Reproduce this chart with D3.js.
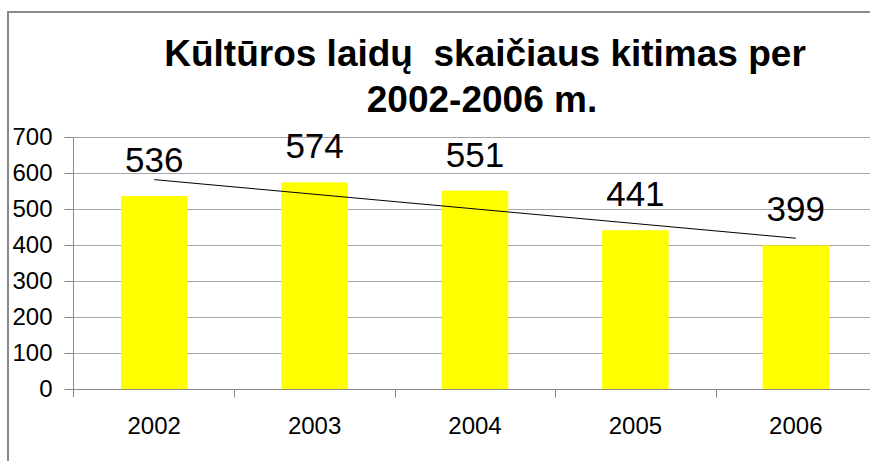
<!DOCTYPE html>
<html>
<head>
<meta charset="utf-8">
<script src="https://cdn.jsdelivr.net/npm/d3@7"></script>
<style>
  html, body { margin: 0; padding: 0; background: #fff; }
  svg { display: block; font-family: "Liberation Sans", Arial, sans-serif; }
  text { white-space: pre; }
</style>
</head>
<body>
<svg id="chart" width="870" height="461"></svg>
<script>
const categories = ["2002", "2003", "2004", "2005", "2006"];
const values = [536, 574, 551, 441, 399];
const yTicks = [0, 100, 200, 300, 400, 500, 600, 700];
const titleLines = ["Kūltūros laidų  skaičiaus kitimas per", "2002-2006 m."];

(function () {
const svg = d3.select("#chart");
const W = 870, H = 461;
const pL = 74, pR = 876, pT = 137, pB = 389;

svg.append("rect").attr("width", W).attr("height", H).attr("fill", "#fff");

// outer frame
svg.append("path")
  .attr("d", `M8,${H + 5} L8,12 L${W + 5},12`)
  .attr("fill", "none").attr("stroke", "#8a8a8a").attr("stroke-width", 2);

const x = d3.scaleBand().domain(categories).range([pL, pR])
  .paddingInner(0.585).paddingOuter(0.2925);
const xb = d3.scaleBand().domain(categories).range([pL, pR]).padding(0);
const y = d3.scaleLinear().domain([0, 700]).range([pB, pT]);

// gridlines
svg.append("g").selectAll("line").data(yTicks.filter(t => t > 0)).join("line")
  .attr("x1", pL).attr("x2", pR)
  .attr("y1", d => y(d) + 0.5).attr("y2", d => y(d) + 0.5)
  .attr("stroke", "#a6a6a6").attr("stroke-width", 1);

// bars
svg.append("g").selectAll("rect").data(values).join("rect")
  .attr("x", (d, i) => x(categories[i]))
  .attr("width", x.bandwidth())
  .attr("y", d => y(d))
  .attr("height", d => y(0) - y(d))
  .attr("fill", "#ffff00");

// y axis
const yAxis = d3.axisLeft(y).tickValues(yTicks).tickSize(9).tickPadding(12).tickFormat(d3.format("d"));
const gy = svg.append("g").attr("transform", `translate(${pL - 0.5},0)`).call(yAxis);
gy.select(".domain").attr("stroke", "#8a8a8a").attr("d", `M0,${pT} V${pB + 8}`);
gy.selectAll(".tick line").attr("stroke", "#8a8a8a");
gy.selectAll(".tick text").attr("font-size", 24).attr("fill", "#000")
  .attr("font-family", "Liberation Sans, Arial, sans-serif");

// x axis
const gx = svg.append("g").attr("transform", `translate(0,${pB + 0.5})`);
gx.append("line").attr("x1", pL).attr("x2", pR).attr("y1", 0).attr("y2", 0)
  .attr("stroke", "#8a8a8a").attr("stroke-width", 1);
gx.selectAll("line.tk").data(categories.slice(1)).join("line").attr("class", "tk")
  .attr("x1", d => Math.round(xb(d)) + 0.5).attr("x2", d => Math.round(xb(d)) + 0.5)
  .attr("y1", 0).attr("y2", 8).attr("stroke", "#8a8a8a");
gx.selectAll("text").data(categories).join("text")
  .attr("x", d => xb(d) + xb.bandwidth() / 2)
  .attr("y", 44)
  .attr("text-anchor", "middle").attr("font-size", 24).attr("fill", "#000")
  .text(d => d);

// linear trendline (least squares fit of the values)
const n = values.length;
const xs = d3.range(1, n + 1);
const mx = d3.mean(xs), my = d3.mean(values);
const slope = d3.sum(xs, (xi, i) => (xi - mx) * (values[i] - my)) / d3.sum(xs, xi => (xi - mx) ** 2);
const intercept = my - slope * mx;
const trend = [1, n].map(xi => ({ c: categories[xi - 1], v: intercept + slope * xi }));
svg.append("path")
  .attr("d", d3.line().x(d => xb(d.c) + xb.bandwidth() / 2).y(d => y(d.v))(trend))
  .attr("stroke", "#000").attr("stroke-width", 1).attr("fill", "none");

// data labels
svg.append("g").selectAll("text").data(values).join("text")
  .attr("x", (d, i) => x(categories[i]) + x.bandwidth() / 2)
  .attr("y", d => y(d) - 24)
  .attr("text-anchor", "middle").attr("font-size", 35).attr("fill", "#000")
  .text(d => d);

// title
svg.append("g").selectAll("text").data(titleLines).join("text")
  .attr("x", (d, i) => i === 0 ? 485 : 482)
  .attr("y", (d, i) => i === 0 ? 66 : 112)
  .attr("text-anchor", "middle").attr("font-size", 37).attr("font-weight", "bold")
  .attr("fill", "#000")
  .text(d => d);
})();
</script>
</body>
</html>
